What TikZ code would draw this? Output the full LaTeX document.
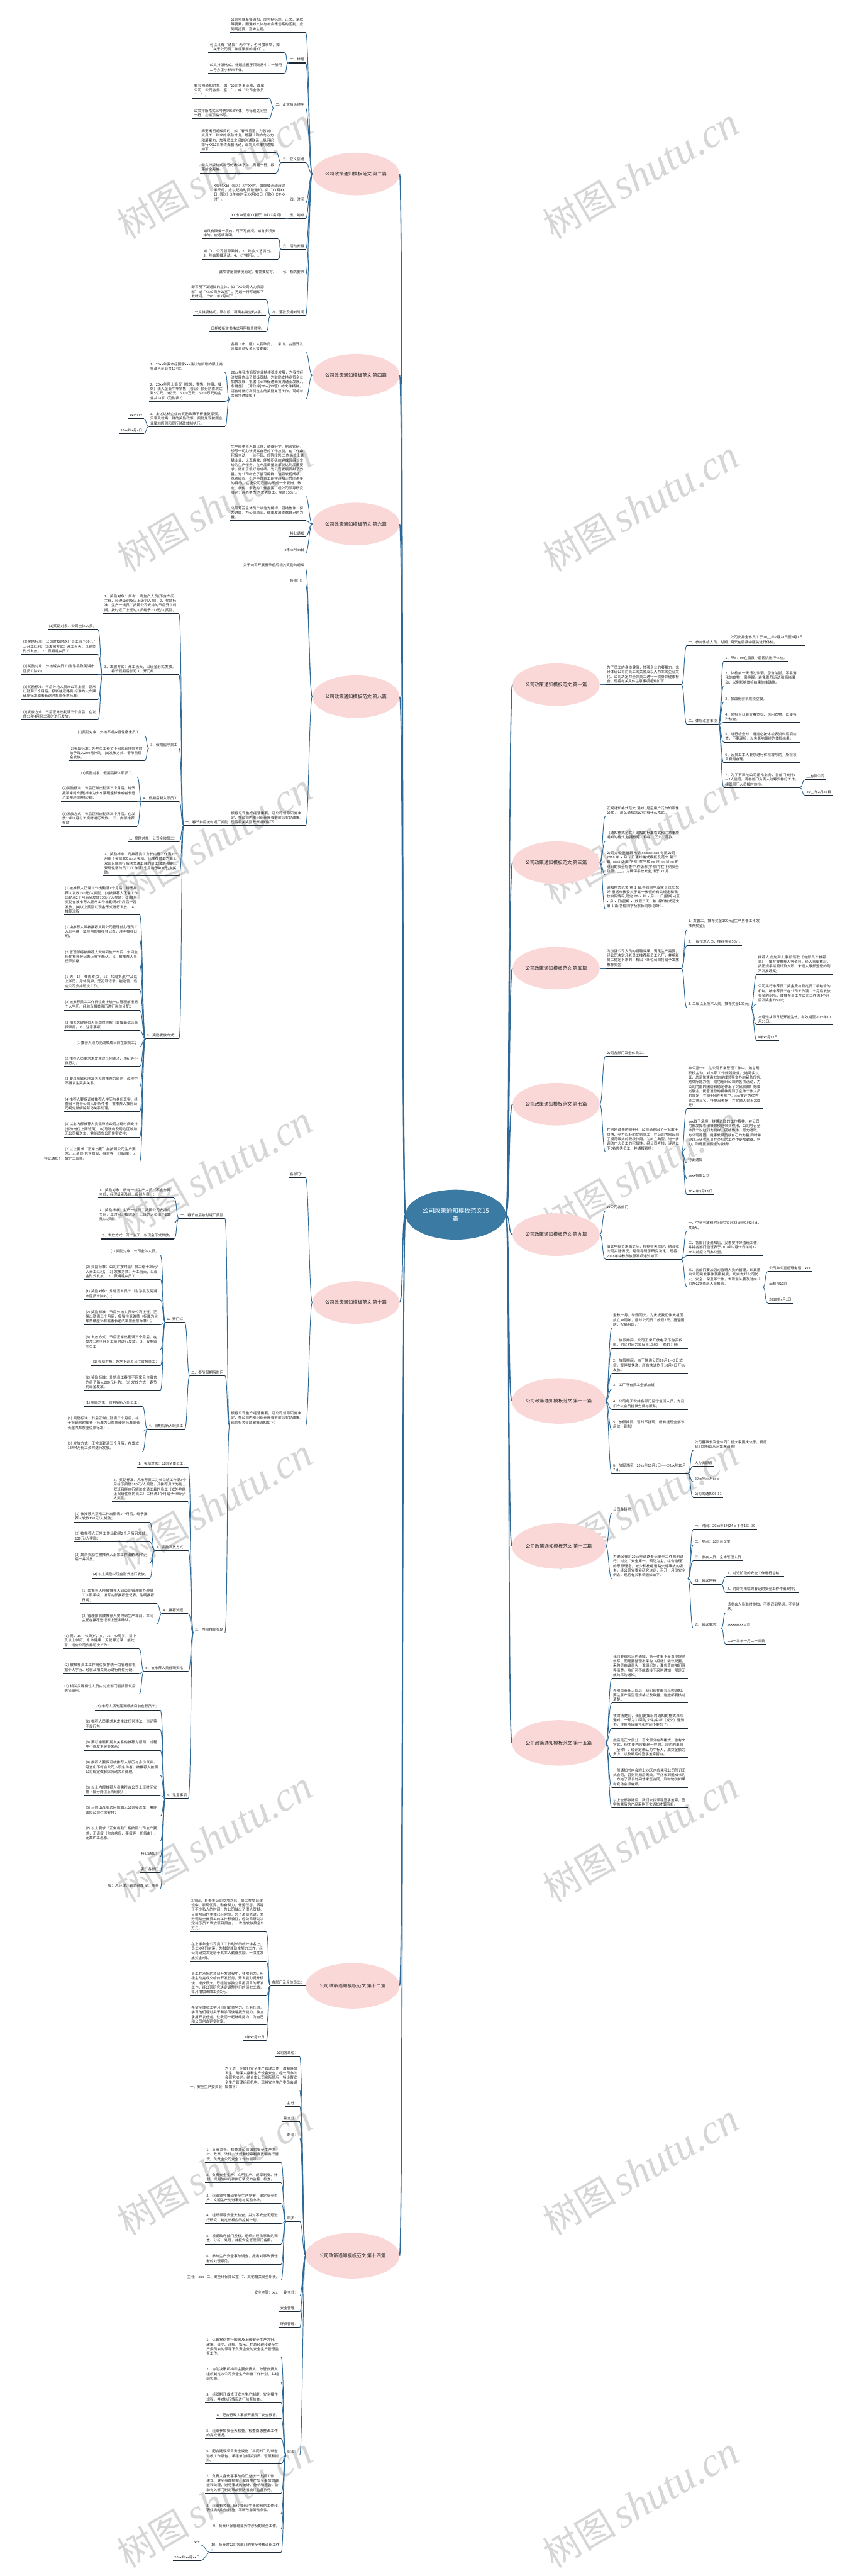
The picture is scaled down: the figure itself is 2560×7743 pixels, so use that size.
\documentclass[tikz,border=0pt]{standalone}
\usepackage{fontspec}
\setmainfont{Noto Sans CJK SC}
\newfontfamily\wmlatin{Liberation Serif}
\usetikzlibrary{shapes.geometric}
\XeTeXlinebreaklocale "zh"
\XeTeXlinebreakskip=0pt plus 0.5pt
\definecolor{linkc}{RGB}{45,104,150}
\definecolor{ulc}{RGB}{30,40,52}
\definecolor{pinkc}{RGB}{250,216,216}
\definecolor{rootc}{RGB}{59,122,163}
\definecolor{wmc}{RGB}{214,214,214}
\definecolor{txtc}{RGB}{35,35,35}
\newcommand\leaffont{\fontsize{5.375pt}{6.95pt}\selectfont}
\newcommand\brfont{\fontsize{7pt}{8.5pt}\selectfont}
\newcommand\rootfont{\fontsize{9pt}{12pt}\selectfont}
\newcommand\wmcjkf{\fontsize{55pt}{60pt}\selectfont}
\newcommand\wmlatf{\wmlatin\itshape\fontsize{62pt}{70pt}\selectfont}
\tikzset{
 uline/.style={draw=ulc, line width=1pt},
 conn/.style={draw=linkc, line width=0.9pt},
 trunkc/.style={draw=linkc, line width=1.5pt},
 leafn/.style={inner xsep=2pt, inner ysep=2.3pt, font=\leaffont, text=txtc, align=left,
   append after command={(\tikzlastnode.south west) edge[uline] (\tikzlastnode.south east)}},
 lnode/.style={leafn, anchor=south east},
 rnode/.style={leafn, anchor=south west},
 twid/.style={text width=110pt},
 brn/.style={ellipse, fill=pinkc, inner sep=0pt, font=\brfont, text=txtc, minimum width=129.5pt, minimum height=64pt},
 brxn/.style={brn, minimum width=139pt, minimum height=68.5pt},
 rootn/.style={ellipse, fill=rootc, text=white, font=\rootfont, align=center, inner sep=0pt, minimum width=150.5pt, minimum height=75pt},
 wmark/.style={text=wmc, rotate=30, inner sep=0pt},
}
\newcommand\cnL[2]{\draw[conn] (#1.south west) .. controls +(-9,0) and +(9,0) .. (#2.south east);}
\newcommand\cnR[2]{\draw[conn] (#1.south east) .. controls +(9,0) and +(-9,0) .. (#2.south west);}
\newcommand\enL[2]{\draw[conn] (#1.west) .. controls +(-9,0) and +(9,0) .. (#2.south east);}
\newcommand\enR[2]{\draw[conn] (#1.east) .. controls +(9,0) and +(-9,0) .. (#2.south west);}
\newcommand\cnLs[2]{\foreach \qq in {#2}{\cnL{#1}{\qq}}}
\newcommand\cnRs[2]{\foreach \qq in {#2}{\cnR{#1}{\qq}}}
\newcommand\enLs[2]{\foreach \qq in {#2}{\enL{#1}{\qq}}}
\newcommand\enRs[2]{\foreach \qq in {#2}{\enR{#1}{\qq}}}
\begin{document}
\begin{tikzpicture}[x=0.5pt,y=-0.5pt]
\useasboundingbox (0,0) rectangle (2560,7743);
% watermarks
\foreach \yy in {522,1522,...,7522}{
  \node[wmark] at (646,\yy) {{\wmcjkf 树图}\hspace{8pt}{\wmlatf shutu.cn}};
  \node[wmark] at (1927,\yy) {{\wmcjkf 树图}\hspace{8pt}{\wmlatf shutu.cn}};
}
% root
\node[rootn] (root) at (1370,3651) {公司政策通知模板范文15\\篇};
% ================= LEFT =================
\node[brn] (b2) at (1070,523) {公司政策通知模板范文 第二篇};
\node[brn] (b4) at (1070,1128) {公司政策通知模板范文 第四篇};
\node[brn] (b6) at (1070,1575) {公司政策通知模板范文 第六篇};
\node[brn] (b8) at (1070,2094) {公司政策通知模板范文 第八篇};
\node[brn] (b10) at (1070,3915) {公司政策通知模板范文 第十篇};
\node[brxn] (b12) at (1060,5969) {公司政策通知模板范文 第十二篇};
\node[brxn] (b14) at (1060,6780) {公司政策通知模板范文 第十四篇};
% ---- 第二篇
\node[lnode,twid] (b2a) at (919,97) {公司年底聚餐通知，应包括标题、正文、落款等要素。因通知文体与年会策划案的区别，应简明扼要，直奔主题。};
\node[lnode] (b2b) at (919,189) {一、标题};
\node[lnode,twid] (b2b1) at (855,158) {可以只有“通知”两个字，也可加事项，如“关于公司员工年底聚餐的通知”。};
\node[lnode,twid] (b2b2) at (855,220) {公文排版格式。标题应置于顶端居中，一般用二号方正小标宋字体。};
\node[lnode] (b2c) at (919,325) {二、正文抬头称呼};
\node[lnode,twid] (b2c1) at (808,295) {要写明通知对象，如“公司各事业部、直属公司，公司各部、室：”，或“公司全体员工：”。};
\node[lnode,twid] (b2c2) at (808,357) {公文排版格式三号仿宋GB字体，与标题之间空一行，左端顶格书写。};
\node[lnode] (b2d) at (919,489) {三、正文引语};
\node[lnode,twid] (b2d1) at (830,459) {简要阐明通知目的，如“春节将至，为答谢广大员工一年来的辛勤付出，增强公司的向心力和凝聚力，加强员工之间的沟通联系，拟组织举行XX公司年终聚餐活动，现将具体事项通知如下。”};
\node[lnode,twid] (b2d2) at (830,520) {公文排版格式三号仿宋GB字体，另起一行，段落前空两格。};
\node[lnode] (b2e) at (919,609) {四、时间};
\node[lnode,twid] (b2e1) at (b2e.south west) {XX月XX日（周X）X午XX时。如聚餐活动超过半天的，应以起始时间段通知，如“XX月XX日（周X）X午XX时至XX月XX日（周X）X午XX时”。};
\node[lnode] (b2f) at (919,657) {五、地点};
\node[lnode] (b2f1) at ([xshift=-5pt]b2f.south west) {XX市XX酒店XX餐厅（或XX房间）};
\node[lnode] (b2g) at (919,749) {六、活动安排};
\node[lnode,twid] (b2g1) at (836,718) {如只有聚餐一项的，可不写此项。如有多项安排的，应逐项说明。};
\node[lnode,twid] (b2g2) at (836,779) {如“1、公司领导致辞。2、年会文艺演出。3、年会聚餐活动。4、KTV娱乐。…”};
\node[lnode] (b2h) at (919,827) {七、相关要求};
\node[lnode] (b2h1) at ([xshift=-5pt]b2h.south west) {此项亦是视情况而定。有需要就写。};
\node[lnode] (b2i) at (919,949) {八、落款及通知时间};
\node[lnode,twid] (b2i1) at (800,901) {即写明下发通知的主体，如“XX公司人力资源部”或“XX公司办公室”。另起一行写通知下发时间，“20xx年X月X日”。};
\node[lnode] (b2i2) at (800,949) {公文排版格式，靠右段，距离右端空约4字。};
\node[lnode] (b2i3) at (800,997) {日期按新文书格式用阿拉伯数字。};
\enLs{b2}{b2a,b2b,b2c,b2d,b2e,b2f,b2g,b2h,b2i}
\cnLs{b2b}{b2b1,b2b2}
\cnLs{b2c}{b2c1,b2c2}
\cnLs{b2d}{b2d1,b2d2}
\cnLs{b2f}{b2f1}
\cnLs{b2g}{b2g1,b2g2}
\cnLs{b2h}{b2h1}
\cnLs{b2i}{b2i1,b2i2,b2i3}
% ---- 第四篇
\node[lnode,twid] (b4a) at (919,1058) {各县（市、区）人民政府，、常山、古雷开发区和台商投资区管委会：};
\node[lnode,twid] (b4b) at (919,1200) {20xx年我市商贸企业持续稳步发展，为我市经济发展作出了积极贡献。为鼓励支持商贸企业加快发展，根据《xx市促进商贸流通业发展八条措施》（漳政综[20xx]50号）的文件精神，请各地做好商贸企业的奖励兑现工作。现将有关事项通知如下：};
\node[lnode,twid] (b4b1) at (676,1119) {1、20xx年我市经国家xxx确认为新增的限上商贸法人企业共124家。};
\node[lnode,twid] (b4b2) at (676,1207) {2、20xx年限上商贸（批发、零售、住宿、餐饮）法人企业中年销售（营业）额分别首次达到5亿元、3亿元、5000万元、5000万元的企业共18家（见附表2）};
\node[lnode,twid] (b4b3) at (676,1282) {3、上述达标企业的奖励政策不得重复享受，只享受就高一种的奖励政策。奖励兑现按照企业属地原则和现行财政体制执行。};
\node[lnode] (b4b3a) at (432,1259) {xx市xxx};
\node[lnode] (b4b3b) at (432,1303) {20xx年x月x日};
\enLs{b4}{b4a,b4b}
\cnLs{b4b}{b4b1,b4b2,b4b3}
\cnLs{b4b3}{b4b3a,b4b3b}
% ---- 第六篇
\node[lnode,twid] (b6a) at (919,1491) {生产部李自入职以来，勤奋好学、刻苦钻研，想尽一切办法提高自己的工作技能。在工作中积极主动、一丝不苟、任劳任怨;工作岗位上兢兢业业、认真高效，能够积极的完成班组长交给的生产任务。在产品质量上都能达到品质要求，做出了很好的成绩。为公司发展贡献了力量，为公司树立了学习榜样，达到发扬成绩、总结经验、引导全体员工比学赶帮，共同进步的目的。在全公司范围内形成一个爱岗、敬业、学优、争先的工作氛围，经公司领导研究决定：评选李杰 为优秀员工。奖励150元。};
\node[lnode,twid] (b6b) at (919,1565) {公司号召全体员工以他为榜样，团结协作、努力进取，为公司稳固、健康发展贡献自己的力量。};
\node[lnode] (b6c) at (919,1613) {特此通知};
\node[lnode] (b6d) at (919,1662) {x年xx月xx日};
\enLs{b6}{b6a,b6b,b6c,b6d}
% ---- 第八篇
\node[lnode] (b8a) at (919,1709) {关于公司开展春节前后相关奖励的通知};
\node[lnode] (b8b) at (919,1756) {各部门：};
\node[lnode,twid] (b8c) at (919,2482) {根据公司生产经营需要，经公司领导研究决定，在公司内部组织开展春节前后奖励政策。现将相关奖励政策通知如下：};
\node[lnode] (b8d) at (b8c.south west) {一、春节前后按时返厂奖励};
\node[lnode,twid] (b8d1) at (538,1845) {1、奖励对象：所有一线生产人员(不含车间主任、经理级别及以上级别人员)；2、奖励标准：生产一线员工按照公司安排的节后开工时间，按时返厂上班的人员给予200元/人奖励；};
\node[lnode,twid] (b8d2) at (538,2028) {3、发放方式：开工当天，以现金形式发放。二、春节假期后慰问 1、开门红};
\node[lnode] (b8d2a) at (294,1892) {(1)奖励对象：公司全体人员；};
\node[lnode,twid] (b8d2b) at (294,1967) {(2)奖励标准：公司对按时返厂员工给予30元/人开工红利；(3)发放方式：开工当天，以现金形式发放。 2、假期返乡员工};
\node[lnode,twid] (b8d2c) at (294,2028) {(1)奖励对象：外地返乡员工(当涂县及芜湖市区员工除外)；};
\node[lnode,twid] (b8d2d) at (294,2103) {(2)奖励标准：节后外地人员来公司上班，正常出勤满三个月后，报销往返路费(标准为火车票硬座标准或者长途汽车票坐票标准)；};
\node[lnode,twid] (b8d2e) at (294,2164) {(3)发放方式：节后正常出勤满三个月后，在发放13年4月份工资时进行发放。};
\node[lnode] (b8d3) at (538,2249) {3、假期留守员工};
\node[lnode] (b8d3a) at (434,2212) {(1)奖励对象：外地不返乡且住宿舍员工；};
\node[lnode,twid] (b8d3b) at (434,2287) {(2)奖励标准：外地员工春节不回家且住宿舍的给予每人200元补助；(3)发放方式：春节前现金发放。};
\node[lnode] (b8d4) at (538,2409) {4、假期后新入职员工};
\node[lnode] (b8d4a) at (412,2335) {(1)奖励对象：假期后新入职员工；};
\node[lnode,twid] (b8d4b) at (412,2409) {(2)奖励标准：节后正常出勤满三个月后，给予报销来时车费(标准为火车票硬座标准或者长途汽车票座位票标准)；};
\node[lnode,twid] (b8d4c) at (412,2484) {(3)发放方式：节后正常出勤满三个月后，在发放13年4月份工资时进行发放。 三、内部推荐奖励};
\node[lnode] (b8d5) at (538,2531) {1、奖励对象：公司全体员工；};
\node[lnode,twid] (b8d6) at (538,2633) {2、奖励标准：凡推荐员工为长白班工作满3个月给予奖励300元/人奖励。凡推荐员工为能上双班且能自行解决交通工具的员工(或外地能上双班住宿的员工)工作满3个月给予400元/人奖励。};
\node[lnode] (b8d7) at (538,3122) {3、奖励发放方式：};
\node[lnode,twid] (b8d7a) at (420,2750) {(1)被推荐人正常工作出勤满1个月后，给予推荐人发放150元/人奖励；(2)被推荐人正常工作出勤满2个月后另发放100元/人奖励；(3)其余奖励在被推荐人正常工作出勤满3个月后一并发放；(4)以上奖励以现金形式进行发放。 4、推荐流程：};
\node[lnode,twid] (b8d7b) at (420,2825) {(1)由推荐人带被推荐人到公司管理部办理员工入职手续，填写内部推荐登记表，注明推荐日期；};
\node[lnode,twid] (b8d7c) at (420,2900) {(2)管理部将被推荐人安排到生产车间，车间主任在推荐登记表上签字确认。 5、被推荐人员任职资格：};
\node[lnode,twid] (b8d7d) at (420,2975) {(1)男，16—45周岁;女，16—40周岁;初中及以上学历，身体健康，无犯罪记录，能吃苦，适应公司安排班次工作；};
\node[lnode,twid] (b8d7e) at (420,3036) {(2)被推荐员工工作岗位安排统一由管理部根据个人学历、经验及相关资历进行岗位分配；};
\node[lnode,twid] (b8d7f) at (420,3098) {(3)相关关键岗位人员由对应部门直接面试后选择录用。 6、注意事项};
\node[lnode] (b8d7g) at (420,3146) {(1)推荐人须为芜湖顺成目前在职员工；};
\node[lnode,twid] (b8d7h) at (420,3206) {(2)推荐人员要求未发生过任何违法、违纪等不良行为；};
\node[lnode,twid] (b8d7i) at (420,3267) {(3)要以亲属和朋友关系的推荐为原则，过程中不得发生买卖关系；};
\node[lnode,twid] (b8d7j) at (420,3342) {(4)推荐人要保证被推荐人学历与身份真实，经查出不符合公司入职条件者，被推荐人按照公司规定做解除劳动关系处理。};
\node[lnode,twid] (b8d7k) at (420,3418) {(5)以上内部推荐人员需符合公司上班时间安排(部分岗位上两班倒)；(6)马鞍山及周边区域如无公司接送车，需能适应公司住宿安排；};
\node[lnode,twid] (b8d7l) at (420,3492) {(7)以上要求“正常出勤”指按照公司生产要求，无请假(包含病假、事假等一切假由)、无故旷工现象。};
\node[lnode] (b8x1) at (b8d7l.south west) {特此通知！};
\enLs{b8}{b8a,b8b,b8c}
\cnLs{b8d}{b8d1,b8d2,b8d3,b8d4,b8d5,b8d6,b8d7}
\cnLs{b8d2}{b8d2a,b8d2b,b8d2c,b8d2d,b8d2e}
\cnLs{b8d3}{b8d3a,b8d3b}
\cnLs{b8d4}{b8d4a,b8d4b,b8d4c}
\cnLs{b8d7}{b8d7a,b8d7b,b8d7c,b8d7d,b8d7e,b8d7f,b8d7g,b8d7h,b8d7i,b8d7j,b8d7k,b8d7l}
% ---- 第十篇
\node[lnode] (b10a) at (919,3539) {各部门：};
\node[lnode,twid] (b10b) at (919,4286) {根据公司生产经营需要，经公司领导研究决定，在公司内部组织开展春节前后奖励政策。现将相关奖励政策通知如下：};
\node[lnode] (t1) at (676,3662) {一、春节前后按时返厂奖励};
\node[lnode,twid] (t1a) at (523,3601) {1、奖励对象：所有一线生产人员（不含车间主任、经理级别及以上级别人员）；};
\node[lnode,twid] (t1b) at (523,3676) {2、奖励标准：生产一线员工按照公司安排的节后开工时间，按时返厂上班的人员给予200元/人奖励；};
\node[lnode] (t1c) at (523,3724) {3、发放方式：开工当天，以现金形式发放。};
\node[lnode] (t2) at (676,4135) {二、春节假期后慰问};
\node[lnode] (t21) at (555,3975) {1、开门红};
\node[lnode] (t21a) at (482,3772) {(1) 奖励对象：公司全体人员；};
\node[lnode,twid] (t21b) at (482,3846) {(2) 奖励标准：公司对按时返厂员工给予30元/人开工红利；\ (3) 发放方式：开工当天，以现金形式发放。 2、假期返乡员工};
\node[lnode,twid] (t21c) at (482,3907) {(1) 奖励对象：外地返乡员工（当涂县及芜湖市区员工除外）；};
\node[lnode,twid] (t21d) at (482,3982) {(2) 奖励标准：节后外地人员来公司上班，正常出勤满三个月后，报销往返路费（标准为火车票硬座标准或者长途汽车票坐票标准）；};
\node[lnode,twid] (t21e) at (482,4057) {(3) 发放方式：节后正常出勤满三个月后，在发放13年4月份工资时进行发放。 3、假期留守员工};
\node[lnode] (t21f) at (482,4105) {(1) 奖励对象：外地不返乡且住宿舍员工；};
\node[lnode,twid] (t21g) at (482,4179) {(2) 奖励标准：外地员工春节不回家且住宿舍的给予每人200元补助；\ (3) 发放方式：春节前现金发放。};
\node[lnode] (t22) at (555,4296) {4、假期后新入职员工};
\node[lnode] (t22a) at (428,4227) {(1) 奖励对象：假期后新入职员工；};
\node[lnode,twid] (t22b) at (428,4302) {(2) 奖励标准：节后正常出勤满三个月后，给予报销来时车费（标准为火车票硬座标准或者长途汽车票座位票标准）；};
\node[lnode,twid] (t22c) at (428,4363) {(3) 发放方式：正常出勤满三个月后，在发放13年4月份工资时进行发放。};
\node[lnode] (t3) at (676,4908) {三、内部推荐奖励};
\node[lnode] (t31) at (566,4411) {1、奖励对象：公司全体员工；};
\node[lnode,twid] (t32) at (566,4514) {2、奖励标准：凡推荐员工为长白班工作满3个月给予奖励300元/人奖励，凡推荐员工为能上双班且能自行解决交通工具的员工（或外地能上双班住宿的员工）工作满3个月给予400元/人奖励。};
\node[lnode] (t33) at (566,4660) {3、奖励发放方式：};
\node[lnode,twid] (t33a) at (450,4575) {(1) 被推荐人正常工作出勤满1个月后，给予推荐人发放150元/人奖励；};
\node[lnode,twid] (t33b) at (450,4635) {(2) 被推荐人正常工作出勤满2个月后另发放100元/人奖励；};
\node[lnode,twid] (t33c) at (450,4698) {(3) 其余奖励在被推荐人正常工作出勤满3个月后一并发放；};
\node[lnode] (t33d) at (450,4744) {(4) 以上奖励以现金形式进行发放。};
\node[lnode] (t34) at (566,4850) {4、推荐流程：};
\node[lnode,twid] (t34a) at (471,4820) {(1) 由推荐人带被推荐人到公司管理部办理员工入职手续，填写内部推荐登记表，注明推荐日期；};
\node[lnode,twid] (t34b) at (471,4881) {(2) 管理部将被推荐人安排到生产车间，车间主任在推荐登记表上签字确认。};
\node[lnode] (t35) at (566,5024) {5、被推荐人员任职资格：};
\node[lnode,twid] (t35a) at (418,4956) {(1) 男，16—45周岁；女，16—40周岁；初中及以上学历，身体健康，无犯罪记录，能吃苦，适应公司安排班次工作；};
\node[lnode,twid] (t35b) at (418,5030) {(2) 被推荐员工工作岗位安排统一由管理部根据个人学历、经验及相关资历进行岗位分配；};
\node[lnode,twid] (t35c) at (418,5092) {(3) 相关关键岗位人员由对应部门直接面试后选择录用。};
\node[lnode] (t36) at (566,5406) {6、注意事项};
\node[lnode] (t36a) at (482,5140) {(1) 推荐人须为芜湖顺成目前在职员工；};
\node[lnode,twid] (t36b) at (482,5200) {(2) 推荐人员要求未发生过任何违法、违纪等不良行为；};
\node[lnode,twid] (t36c) at (482,5261) {(3) 要以亲属和朋友关系的推荐为原则，过程中不得发生买卖关系；};
\node[lnode,twid] (t36d) at (482,5336) {(4) 推荐人要保证被推荐人学历与身份真实，经查出不符合公司入职条件者，被推荐人按照公司规定做解除劳动关系处理。};
\node[lnode,twid] (t36e) at (482,5397) {(5) 以上内部推荐人员需符合公司上班时间安排（部分岗位上两班倒）；};
\node[lnode,twid] (t36f) at (482,5459) {(6) 马鞍山及周边区域如无公司接送车，需能适应公司住宿安排；};
\node[lnode,twid] (t36g) at (482,5534) {(7) 以上要求“正常出勤”指按照公司生产要求，无请假（包含病假、事假等一切假由）、无故旷工现象。};
\node[lnode] (t36h) at (482,5581) {特此通知！};
\node[lnode] (t36i) at (482,5629) {发：各部门};
\node[lnode] (t36j) at (482,5677) {报：总经理、副总经理 呈：周董};
\enLs{b10}{b10a,b10b}
\cnLs{b10b}{t1,t2,t3}
\cnLs{t1}{t1a,t1b,t1c}
\cnLs{t2}{t21,t22}
\cnLs{t21}{t21a,t21b,t21c,t21d,t21e,t21f,t21g}
\cnLs{t22}{t22a,t22b,t22c}
\cnLs{t3}{t31,t32,t33,t34,t35,t36}
\cnLs{t33}{t33a,t33b,t33c,t33d}
\cnLs{t34}{t34a,t34b}
\cnLs{t35}{t35a,t35b,t35c}
\cnLs{t36}{t36a,t36b,t36c,t36d,t36e,t36f,t36g,t36h,t36i,t36j}
% ---- 第十二篇
\node[lnode] (b12a) at (b12.west) {各部门及全体员工：};
\node[lnode,twid] (b12a1) at (800,5806) {X项目，自去年公司立项之后，员工在项目建设中，表现优异，勤奋努力，任劳任怨，牺牲了不少私人的时间，为公司做出了很大贡献。目前项目的主体已经完成，为了激励先进，充分调动全体员工的工作积极性，经公司研究决定给予员工发放项目奖金，一次性发放奖金X万元。};
\node[lnode,twid] (b12a2) at (800,5895) {在上半年全公司员工工作时长的统计排名上，员工X名列前茅，为鼓励其勤奋努力工作，经公司研究决定给予其本人勤奋奖励，一次性发放奖金X元。};
\node[lnode,twid] (b12a3) at (800,5998) {员工在承担的项目开发过程中，非常努力，积极主动完成交给的开发任务，开发能力提升很快，进步很大，已经能够独立承担项目的开发工作，经公司研究决定调整他们的绩效工资，每月增加绩效工资X元。};
\node[lnode,twid] (b12a4) at (800,6086) {希望全体员工学习他们勤奋努力、任劳任怨，学习他们通过实干和学习快速提升能力，独立承担开发任务。让我们一起继续努力，为自己和公司创造更多财富。};
\node[lnode] (b12a5) at (800,6134) {x年xx月xx日};
\cnLs{b12a}{b12a1,b12a2,b12a3,b12a4,b12a5}
% ---- 第十四篇
\node[lnode] (b14a) at (901,6181) {公司各单位：};
\node[lnode,twid] (b14b) at (901,6283) {为了进一步做好安全生产管理工作，遏制事故发生，确保人身和生产设备安全，经公司办公会研究决定，结合本公司实际情况，特设置安全生产管理组织机构。现将安全生产委员会通知如下：};
\node[lnode] (b14b1) at (b14b.south west) {一、安全生产委员会};
\node[lnode] (b14c) at (901,6331) {主 任：};
\node[lnode] (b14d) at (901,6378) {副主任：};
\node[lnode] (b14e) at (901,6426) {委 员：};
\node[lnode] (b14f) at (901,6677) {职责：};
\node[lnode,twid] (b14f1) at (845,6500) {1、负责监督、检查本公司国家安全生产方针、政策、法律、法规和规章制度贯彻执行情况，负责全公司安全工作的领导。};
\node[lnode,twid] (b14f2) at (845,6561) {2、负责安全生产、文明生产、规章制度、计划、规划的审定和执行情况的监督、检查。};
\node[lnode,twid] (b14f3) at (845,6623) {3、组织领导推动安全生产竞赛，审定安全生产、文明生产先进事迹与奖励办法。};
\node[lnode,twid] (b14f4) at (845,6683) {4、组织领导安全大检查，并对不安全问题进行研究，制定出相应的控制计划。};
\node[lnode,twid] (b14f5) at (845,6745) {5、根据政府部门授权，组织对轻伤事故的调查、分析、处理，并报安全管理部门备案。};
\node[lnode,twid] (b14f6) at (845,6806) {6、参与生产安全事故调查，提出对事故责任者的处理意见。};
\node[lnode] (b14f7) at (845,6854) {7、其他相关安全职责。};
\node[lnode] (b14f8) at (b14f7.south west) {二、安全环保办公室};
\node[lnode] (b14f9) at (b14f8.south west) {主 任：xxx};
\node[lnode] (b14g) at (901,6901) {副主任：};
\node[lnode] (b14g1) at ([xshift=-5pt]b14g.south west) {安全主管：xxx};
\node[lnode] (b14h) at (901,6949) {安全管理：};
\node[lnode] (b14i) at (901,6996) {环保管理：};
\node[lnode] (b14j) at (901,7379) {职责：};
\node[lnode,twid] (b14j1) at (845,7085) {1、认真贯彻执行国家及上级安全生产方针、政策、法令、法规、指示，在总经理和安全生产委员会的领导下负责企业的安全生产管理监督工作。};
\node[lnode,twid] (b14j2) at (845,7160) {2、协助决策机构和主要负责人、分管负责人组织制定本公司安全生产年度工作计划，并组织实施。};
\node[lnode,twid] (b14j3) at (845,7222) {3、组织制订或修订安全生产制度、安全操作规程，并对执行情况进行监督检查。};
\node[lnode] (b14j4) at (845,7269) {4、配合行政人事部开展员工安全教育。};
\node[lnode,twid] (b14j5) at (845,7330) {5、组织参加安全大检查，检查隐患整改工作的完成情况。};
\node[lnode,twid] (b14j6) at (845,7406) {6、配合建设项目安全设施“三同时”的审查验收工作承包、承租单位相关资质、证照和资料。};
\node[lnode,twid] (b14j7) at (845,7494) {7、负责人身伤害事故的汇总统计上报工作，建立、健全事故档案。配合生产安全事故的调查和处理，进行事故的统计、分析和报告，协助有关部门制定事故预防措施并监督执行。};
\node[lnode,twid] (b14j8) at (845,7556) {8、组织有关部门研究职业中毒的预防工作和职业病的防治措施，不断改善劳动条件。};
\node[lnode] (b14j9) at (845,7602) {9、负责环保管理业务中涉及的安全工作。};
\node[lnode] (b14j10) at (845,7672) {10、负责对公司各部门的安全考核评比工作\\。};
\node[lnode] (b14k1) at (605,7650) {xxx};
\node[lnode] (b14k2) at (605,7696) {20xx年xx月xx日};
\enLs{b14}{b14a,b14b,b14c,b14d,b14e,b14f,b14g,b14h,b14i,b14j}
\cnLs{b14f}{b14f1,b14f2,b14f3,b14f4,b14f5,b14f6,b14f7}
\cnLs{b14g}{b14g1}
\cnLs{b14j}{b14j1,b14j2,b14j3,b14j4,b14j5,b14j6,b14j7,b14j8,b14j9,b14j10}
\cnLs{b14j10}{b14k1,b14k2}
% ================= RIGHT =================
\node[brn] (r1) at (1672,2058) {公司政策通知模板范文 第一篇};
\node[brn] (r3) at (1672,2593) {公司政策通知模板范文 第三篇};
\node[brn] (r5) at (1672,2910) {公司政策通知模板范文 第五篇};
\node[brn] (r7) at (1672,3319) {公司政策通知模板范文 第七篇};
\node[brn] (r9) at (1672,3711) {公司政策通知模板范文 第九篇};
\node[brxn] (r11) at (1680,4211) {公司政策通知模板范文 第十一篇};
\node[brxn] (r13) at (1680,4647) {公司政策通知模板范文 第十三篇};
\node[brxn] (r15) at (1680,5239) {公司政策通知模板范文 第十五篇};
% ---- 第一篇
\node[rnode,twid] (r1a) at (1820,2058) {为了员工的身体健康，增强企业的凝聚力，充分体现公司对员工的关爱及以人为本的企业文化。公司决定对全体员工进行一次身体健康检查，现将有关具体注意事项通知如下：};
\node[rnode] (r1b) at (2065,1940) {一、参加体检人员、时间};
\node[rnode,twid] (r1b1) at (r1b.south east) {公司安排全体员工于20\_\_年2月28日至3月1日两天在眉县中医院进行体检。};
\node[rnode] (r1c) at (2065,2177) {二、体检注意事项};
\node[rnode] (r1c1) at (2176,1987) {1、早8：00在眉县中医医院进行体检。};
\node[rnode,twid] (r1c2) at (2176,2061) {2、体检前一天请勿饮酒，忌食油腻，不易消化的食物，保睡眠。避免剧烈运动和情绪激动，以免影响体检结果的准确性。};
\node[rnode] (r1c3) at (2176,2110) {3、抽血化验早晨须空腹。};
\node[rnode,twid] (r1c4) at (2176,2171) {4、体检当日最好着宽松、休闲衣物，以便各种检查。};
\node[rnode,twid] (r1c5) at (2176,2231) {5、进行检查时，请务必按体检表资料逐项检查，不要漏检，以免影响最终的体检结果。};
\node[rnode,twid] (r1c6) at (2176,2293) {6、因员工本人要求进行体检增项的，所检项目费用自理。};
\node[rnode,twid] (r1c7) at (2176,2367) {7、为了不影响公司正常业务，各部门安排1—2人值班，请各部门负责人统筹安排好工作，组织部门人员按时体检。};
\node[rnode] (r1c8) at (2420,2344) {\_\_有限公司};
\node[rnode] (r1c9) at (2420,2391) {20\_\_年2月25日};
\enRs{r1}{r1a}
\cnRs{r1a}{r1b,r1c}
\cnRs{r1c}{r1c1,r1c2,r1c3,r1c4,r1c5,r1c6,r1c7}
\cnRs{r1c7}{r1c8,r1c9}
% ---- 第三篇
\node[rnode,twid] (r3a) at (1820,2453) {正规通知格式范文 通知 ,是运用广泛的知照性公文 。 那么通知怎么写?有什么格式...};
\node[rnode,twid] (r3b) at (1820,2528) {《通知格式范文》通知的标准格式和注意事项 通知的格式,包括标题、称呼、正文、落款。...};
\node[rnode,twid] (r3c) at (1820,2630) {公司办公室值班电话:xxxxxx xxx 有限公司 2018 年 x 月 x 日通知格式模板及范文 第三篇: xxxx 级部(学部):在学校 xx 月 xx 日 xx 时组织的安全检查中,你级部(学部)存在下列安全隐患: \_\_\_。为确保学校安全,请于 xx 月 ......};
\node[rnode,twid] (r3d) at (1820,2733) {通知格式范文 第 1 篇:各位同学及家长同志:您好!根据市教委关于五一放假的有关规定和我校实际情况,现定 20xx 年 x 月 xx 日(星期 x)至 x 月 x 日(星期 x),放假三天。按 通知格式范文 第 1 篇:各位同学及家长同志:您好!...};
\enRs{r3}{r3a,r3b,r3c,r3d}
% ---- 第五篇
\node[rnode,twid] (r5a) at (1820,2910) {为加强公司人员的招聘效果，满足生产需要，经公司决定凡老员工推荐新员工入厂，并将新员工稳定下来的，有以下职位公司将给予发放推荐奖金：};
\node[rnode,twid] (r5b) at (2065,2794) {1. 女普工，推荐奖金100元;(生产男普工不发推荐奖金);};
\node[rnode] (r5c) at (2065,2842) {2. 一级技术人员，推荐奖金50元;};
\node[rnode] (r5d) at (2065,3029) {3. 二级以上技术人员，推荐奖金100元;};
\node[rnode,twid] (r5d1) at (2275,2930) {推荐人应先到人事部领取《内部员工推荐表》，填写被推荐人等资料，经人事审核后，按正规手续面试及入职，未经人事部登记的则不发推荐奖;};
\node[rnode,twid] (r5d2) at (2275,3018) {公司实行推荐员工奖金费与稳定员工相结合的机制。被推荐员工在公司工作满一个月后发放奖金的50\%，被推荐员工在公司工作满3个月后发奖金的50\%;};
\node[rnode,twid] (r5d3) at (2275,3081) {本通知从即日起开始生效，有效期至20xx年10月31日。};
\node[rnode] (r5d4) at (2275,3127) {x年xx月xx日};
\enRs{r5}{r5a}
\cnRs{r5a}{r5b,r5c,r5d}
\cnRs{r5d}{r5d1,r5d2,r5d3,r5d4}
% ---- 第七篇
\node[rnode] (r7a) at (1820,3175) {公司各部门及全体员工：};
\node[rnode,twid] (r7b) at (1820,3462) {在刚刚过去的8月份，公司涌现出了一批敢于拼搏、全力以赴的优秀员工，在公司内部起到了模范带头的积极作用。为树立典型，进一步调动广大员工的积极性，经公司考核，评选以下5名优秀员工，并通报表扬：};
\node[rnode,twid] (r7b1) at (2065,3332) {办公室xxx：在公司日常管理工作中，她总是积极主动，对本职工作兢兢业业，;她踏实认真，总是快速高效的完成领导交办的紧急任务;她交际能力强，成功组织公司的各项活动，为公司内部的团结和稳定作出了突出贡献！她爱岗敬业，锐意进取的精神得到了全体工作人员的肯定！在8月份的考核中，xxx被评为优秀员工第三名，特提出表扬，并奖励人民币200元！};
\node[rnode,twid] (r7b2) at (2065,3450) {xxx敢于承担、拼搏进取的工作精神，在公司内部发挥着积极的模范带头作用，公司号召全体员工以他们为榜样，团结协作、努力进取，为公司稳固、健康发展贡献自己的力量;同时希望以上获奖人员在今后的工作中更加勤奋、努力，取得更加辉煌的业绩！};
\node[rnode] (r7b3) at (2065,3496) {特此通知};
\node[rnode] (r7b4) at (2065,3543) {xxxx有限公司};
\node[rnode] (r7b5) at (2065,3591) {20xx年9月11日};
\enRs{r7}{r7a,r7b}
\cnRs{r7b}{r7b1,r7b2,r7b3,r7b4,r7b5}
% ---- 第九篇
\node[rnode] (r9a) at (1820,3639) {xx公司各部门：};
\node[rnode,twid] (r9b) at (1820,3785) {值此中秋节来临之际，根据有关规定，结合我公司实际情况，经领导班子研究决定，现将2018年中秋节放假事项通知如下：};
\node[rnode,twid] (r9b1) at (2065,3700) {一、中秋节放假时间定为9月22日至9月24日，共3天。};
\node[rnode,twid] (r9b2) at (2065,3774) {二、各部门接通知后，妥善安排好值班工作，并将各部门值班表于2018年9月xx日午时17：00以前报公司办公室。};
\node[rnode,twid] (r9b3) at (2065,3869) {三、各部门要加强对值班人员的管理，认真落实公司突发事件预案制度，切实做好公司防火、安全、保卫等工作，发现苗头要及时向公司办公室值班人员报告。};
\node[rnode] (r9b4) at (2308,3822) {公司办公室值班电话：xxx};
\node[rnode] (r9b5) at (2308,3869) {xx有限公司};
\node[rnode] (r9b6) at (2308,3917) {2018年x月x日};
\enRs{r9}{r9a,r9b}
\cnRs{r9b}{r9b1,r9b2,r9b3}
\cnRs{r9b3}{r9b4,r9b5,r9b6}
% ---- 第十一篇
\node[rnode,twid] (r11a) at (1839,3992) {金秋十月，举国同庆，为庆祝我们伟大祖国成立xx周年，届时公司员工放假7天，喜迎国庆，祝福祖国，！};
\node[rnode,twid] (r11b) at (1839,4053) {1、放假期间，公司正常开放电子币购买权限，购买时间为每日早10:00-{}-{}-{}-晚17：00};
\node[rnode,twid] (r11c) at (1839,4128) {2、放假期间，由于快递公司10月1-{}-{}-3日放假，暂停发快递，所有快递均于10月4日开始发放。};
\node[rnode] (r11d) at (1839,4175) {3、工厂所有员工全部加班;};
\node[rnode,twid] (r11e) at (1839,4237) {4、公司每天安排各部门留守值班人员，为我们广大会员提供方便与服务。};
\node[rnode,twid] (r11f) at (1839,4298) {5、放假期间，暂时不提现，所有提现全部节后统一到账!};
\node[rnode,twid] (r11g) at (1839,4429) {6、放假时间：20xx年10月1日-{}-{}-{}-{}-20xx年10月7日。};
\node[rnode,twid] (r11g1) at (2084,4359) {公司董事长及全体同仁祝大家国庆快乐，祝愿我们的祖国永远繁荣昌盛!};
\node[rnode] (r11g2) at (2084,4407) {人力资源部};
\node[rnode] (r11g3) at (2084,4454) {20xx年xx月xx日};
\node[rnode] (r11g4) at (2084,4501) {公司的通知06-11};
\enRs{r11}{r11a,r11b,r11c,r11d,r11e,r11f,r11g}
\cnRs{r11g}{r11g1,r11g2,r11g3,r11g4}
% ---- 第十三篇
\node[rnode] (r13a) at (1839,4548) {公司各科室：};
\node[rnode,twid] (r13b) at (1839,4745) {为确保我司20xx年道路春运安全工作顺利进行，树立“安全第一，预防为主，综合治理”的思想理念，减少和杜绝道路交通事故的发生，经公司安委会研究决定，召开一月份安全例会，现将有关事项通知如下：};
\node[rnode] (r13b1) at (2084,4597) {一、时间：20xx年1月24日下午15：30};
\node[rnode] (r13b2) at (2084,4644) {二、地点：公司会议室};
\node[rnode] (r13b3) at (2084,4691) {三、参会人员：全体管理人员};
\node[rnode] (r13b4) at (2084,4762) {四、会议内容：};
\node[rnode] (r13b41) at (2182,4739) {1、对近阶段的安全工作进行总结；};
\node[rnode] (r13b42) at (2182,4787) {2、对即将来临的春运的安全工作作出安排；};
\node[rnode] (r13b5) at (2084,4894) {五、会议要求：};
\node[rnode,twid] (r13b51) at (2182,4847) {请参会人员准时参加，不得迟到早退，不得缺席。};
\node[rnode] (r13b52) at (2182,4894) {xxxxxxxxx公司};
\node[rnode] (r13b53) at (2182,4942) {二0一三年一月二十三日};
\enRs{r13}{r13a,r13b}
\cnRs{r13b}{r13b1,r13b2,r13b3,r13b4,r13b5}
\cnRs{r13b4}{r13b41,r13b42}
\cnRs{r13b5}{r13b51,r13b52,r13b53}
% ---- 第十五篇
\node[rnode,twid] (r15a) at (1839,5045) {我们要编写采购通知，第一件事不是直接提笔就写，而是要整理出采购（招标）会议纪要，采购是由谁牵头，谁组织的，谁负责的咱们得弄清楚。咱们可不能直接下采购通知，那是无效的采购通知。};
\node[rnode,twid] (r15b) at (1839,5119) {弄明白责任人以后，我们现在编写采购通知，要注意产品型号规格以及数量，这些都要核对清楚。};
\node[rnode,twid] (r15c) at (1839,5195) {核对清楚后，我们要按采购通知的格式来写通知，一般为XX采购文件/中标（成交）通知书，注意项目编号和时间不要忘了。};
\node[rnode,twid] (r15d) at (1839,5283) {然后是正文部分，正文部分有表格式，也有文字式，但主要内容都是一样的，采购的单位（全称），经评定确认为中标人，成交金额为多少。以及最后的签字盖章留白。};
\node[rnode,twid] (r15e) at (1839,5373) {一般通知书内会附上XX天内应来我公司签订正式合同，否则到期后无效。不然收到通知书的一方拖了很长时间才来签合同，到时物价如果有变动会很麻烦。};
\node[rnode,twid] (r15f) at (1839,5434) {以上全部做好后，我们去找领导签字盖章，签字盖章后的产品采购下文通知才算写好。};
\enRs{r15}{r15a,r15b,r15c,r15d,r15e,r15f}
% ================= trunk =================
\foreach \bb in {b2,b4,b6,b8,b10,b12,b14}{
  \draw[trunkc] (root.west) .. controls +(-12,0) and +(12,0) .. (\bb.east);
}
\foreach \bb in {r1,r3,r5,r7,r9,r11,r13,r15}{
  \draw[trunkc] (root.east) .. controls +(12,0) and +(-12,0) .. (\bb.west);
}
\end{tikzpicture}
\end{document}
